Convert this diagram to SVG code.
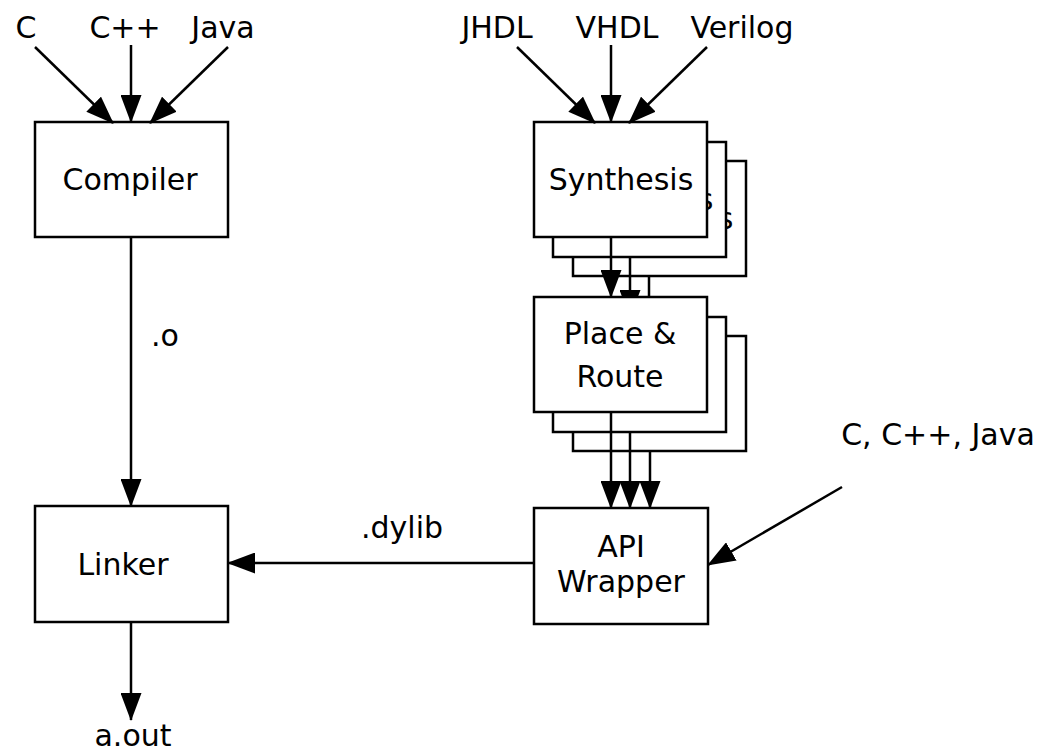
<svg xmlns="http://www.w3.org/2000/svg" width="1042" height="752" viewBox="0 0 1042 752">
  <style>
    .box { fill: #ffffff; stroke: #000000; stroke-width: 2.5; }
    .lbl { font-family: "DejaVu Sans", "Liberation Sans", sans-serif; font-size: 30px; fill: #000000; text-anchor: middle; }
    .wire { fill: none; stroke: #000000; stroke-width: 2.5; marker-end: url(#head); }
  </style>
  <defs>
    <marker id="head" markerUnits="userSpaceOnUse" viewBox="0 0 28 21" markerWidth="28" markerHeight="21" refX="27" refY="10.5" orient="auto">
      <path d="M0,0 L28,10.5 L0,21 z" fill="#000000"/>
    </marker>
    <!-- region above the front Place & Route card; the rear cards hide the rest -->
    <clipPath id="aboveRoute">
      <rect x="0" y="0" width="1042" height="297"/>
    </clipPath>
  </defs>

  <rect width="1042" height="752" fill="#ffffff"/>

  <!-- free-standing labels -->
  <g id="inputs-sw">
    <text class="lbl" x="26" y="38">C</text>
    <text class="lbl" x="125" y="38">C++</text>
    <text class="lbl" x="223" y="38">Java</text>
  </g>
  <g id="inputs-hdl">
    <text class="lbl" x="497" y="38">JHDL</text>
    <text class="lbl" x="617" y="38">VHDL</text>
    <text class="lbl" x="742" y="38">Verilog</text>
  </g>
  <g id="inputs-host">
    <text class="lbl" x="938" y="445">C, C++, Java</text>
  </g>

  <g id="compiler">
    <rect class="box" x="35" y="122" width="193" height="115"/>
    <text class="lbl" x="130" y="190">Compiler</text>
  </g>

  <g id="linker">
    <rect class="box" x="35" y="506" width="193" height="116"/>
    <text class="lbl" x="123" y="575">Linker</text>
  </g>

  <!-- stacked synthesis cards, back to front -->
  <g id="synthesis">
    <rect class="box" x="573" y="161" width="173" height="115"/>
    <text class="lbl" x="661" y="229">Synthesis</text>
    <rect class="box" x="553" y="142" width="173" height="115"/>
    <text class="lbl" x="641" y="210">Synthesis</text>
    <rect class="box" x="534" y="122" width="173" height="115"/>
    <text class="lbl" x="621" y="190">Synthesis</text>
  </g>

  <!-- stacked place & route cards, back to front -->
  <g id="place-route">
    <rect class="box" x="573" y="336" width="173" height="115"/>
    <rect class="box" x="553" y="317" width="173" height="115"/>
    <rect class="box" x="534" y="297" width="173" height="115"/>
    <text class="lbl" x="620" y="344">Place &amp;</text>
    <text class="lbl" x="620" y="387">Route</text>
  </g>

  <g id="api-wrapper">
    <rect class="box" x="534" y="508" width="174" height="116"/>
    <text class="lbl" x="621" y="557">API</text>
    <text class="lbl" x="621" y="592">Wrapper</text>
  </g>

  <g id="connectors">
    <line class="wire" x1="35" y1="47" x2="113" y2="123"/>
    <line class="wire" x1="131" y1="45" x2="131" y2="122"/>
    <line class="wire" x1="228" y1="47" x2="150" y2="123"/>

    <line class="wire" x1="517" y1="47" x2="595" y2="123"/>
    <line class="wire" x1="611" y1="45" x2="611" y2="122"/>
    <line class="wire" x1="707" y1="47" x2="629" y2="123"/>

    <line class="wire" x1="131" y1="237" x2="131" y2="506"/>
    <text class="lbl" x="165" y="346">.o</text>

    <line class="wire" x1="611" y1="237" x2="611" y2="297"/>
    <g clip-path="url(#aboveRoute)">
      <line class="wire" x1="630" y1="257" x2="630" y2="317"/>
      <line class="wire" x1="649" y1="276" x2="649" y2="336"/>
    </g>

    <line class="wire" x1="611" y1="412" x2="611" y2="508"/>
    <line class="wire" x1="630" y1="432" x2="630" y2="508"/>
    <line class="wire" x1="650" y1="451" x2="650" y2="508"/>

    <line class="wire" x1="842" y1="487" x2="708" y2="565"/>

    <line class="wire" x1="534" y1="563" x2="228" y2="563"/>
    <text class="lbl" x="402" y="538">.dylib</text>

    <line class="wire" x1="131" y1="622" x2="131" y2="720"/>
    <text class="lbl" x="133" y="746">a.out</text>
  </g>
</svg>
